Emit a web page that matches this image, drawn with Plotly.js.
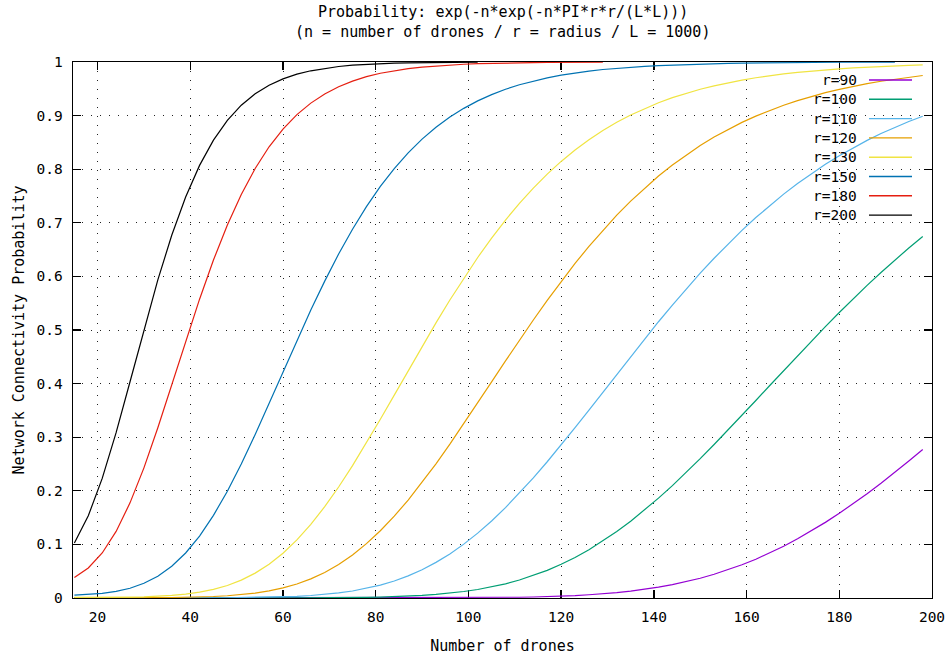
<!DOCTYPE html>
<html>
<head>
<meta charset="utf-8">
<script src="https://cdn.plot.ly/plotly-3.0.1.min.js"></script>
<style>
  html, body { margin: 0; padding: 0; background: #ffffff; }
  #chart { width: 951px; height: 660px; }
</style>
</head>
<body>
<div id="chart"></div>
<script>
// ---- Data ----
const drones = [15,18,21,24,27,30,33,36,39,42,45,48,51,54,57,60,63,66,69,72,75,78,81,84,87,90,93,96,99,102,
  105,108,111,114,117,120,123,126,129,132,135,138,141,144,147,150,153,156,159,162,165,168,171,174,177,180,
  183,186,189,192,195,198];

const seriesNames = ["r=90","r=100","r=110","r=120","r=130","r=150","r=180","r=200"];
const seriesColors = ["#9400d3","#009e73","#56b4e9","#e69f00","#f0e442","#0072b2","#e51e10","#000000"];

const r90 = [0,0,0,0,0,0,0,0,0,0,0,0,0,0,0,0,0,0,0,0,0,0,0,0,0.0001,
  0.0001,0.0002,0.0002,0.0003,0.0005,0.0007,0.0010,0.0014,0.0019,0.0026,0.0035,0.0046,0.0061,0.0079,0.0102,
  0.0129,0.0163,0.0203,0.0250,0.0305,0.0369,0.0443,0.0526,0.0620,0.0724,0.0840,0.0966,0.1104,0.1252,0.1411,
  0.1580,0.1759,0.1946,0.2142,0.2345,0.2555,0.2770];

const r100 = [0.0001,0,0,0,0,0,0,0,0,0,0,0,0,0,0.0001,0.0001,0.0002,0.0002,0.0004,0.0006,0.0008,0.0012,0.0017,
  0.0025,0.0035,0.0049,0.0067,0.0091,0.0121,0.0159,0.0207,0.0265,0.0335,0.0419,0.0516,0.0629,0.0757,0.0902,
  0.1063,0.1240,0.1433,0.1641,0.1863,0.2097,0.2343,0.2599,0.2863,0.3133,0.3408,0.3685,0.3964,0.4243,0.4520,
  0.4793,0.5062,0.5326,0.5582,0.5832,0.6073,0.6307,0.6531,0.6745];

const r110 = [0.0002,0.0001,0.0001,0.0001,0.0001,0.0001,0.0001,0.0001,0.0001,0.0002,0.0003,0.0004,0.0007,0.0010,
  0.0015,0.0022,0.0032,0.0047,0.0067,0.0094,0.0131,0.0179,0.0241,0.0318,0.0413,0.0528,0.0665,0.0823,0.1005,
  0.1210,0.1437,0.1686,0.1954,0.2241,0.2542,0.2855,0.3178,0.3507,0.3840,0.4174,0.4505,0.4833,0.5154,0.5466,
  0.5769,0.6060,0.6339,0.6605,0.6858,0.7098,0.7323,0.7535,0.7734,0.7919,0.8091,0.8252,0.8400,0.8538,0.8665,
  0.8782,0.8890,0.8989];

const r120 = [0.0005,0.0003,0.0003,0.0003,0.0003,0.0004,0.0006,0.0009,0.0013,0.0019,0.0028,0.0042,0.0062,0.0092,
  0.0132,0.0188,0.0261,0.0357,0.0477,0.0626,0.0804,0.1014,0.1255,0.1527,0.1828,0.2155,0.2504,0.2871,0.3251,
  0.3640,0.4032,0.4423,0.4810,0.5187,0.5554,0.5906,0.6242,0.6560,0.6860,0.7142,0.7404,0.7647,0.7872,0.8078,
  0.8268,0.8441,0.8599,0.8743,0.8873,0.8991,0.9098,0.9194,0.9280,0.9358,0.9428,0.9490,0.9546,0.9596,0.9641,
  0.9681,0.9717,0.9748];

const r130 = [0.0012,0.0010,0.0010,0.0012,0.0016,0.0022,0.0033,0.0049,0.0073,0.0109,0.0161,0.0234,0.0333,0.0464,
  0.0630,0.0836,0.1084,0.1374,0.1704,0.2071,0.2469,0.2893,0.3334,0.3785,0.4240,0.4691,0.5133,0.5560,0.5967,
  0.6353,0.6715,0.7052,0.7363,0.7648,0.7909,0.8145,0.8358,0.8550,0.8721,0.8875,0.9011,0.9132,0.9240,0.9335,
  0.9418,0.9492,0.9556,0.9613,0.9663,0.9706,0.9745,0.9778,0.9807,0.9832,0.9854,0.9873,0.9890,0.9905,0.9917,
  0.9928,0.9938,0.9946];

const r150 = [0.0055,0.0065,0.0086,0.0123,0.0182,0.0274,0.0407,0.0593,0.0840,0.1156,0.1542,0.1992,0.2499,0.3050,
  0.3627,0.4217,0.4803,0.5371,0.5912,0.6417,0.6881,0.7301,0.7678,0.8012,0.8305,0.8561,0.8782,0.8972,0.9135,
  0.9274,0.9392,0.9491,0.9575,0.9646,0.9705,0.9755,0.9796,0.9831,0.9860,0.9884,0.9904,0.9920,0.9934,0.9945,
  0.9955,0.9963,0.9969,0.9975,0.9979,0.9983,0.9986,0.9988,0.9990,0.9992,0.9994,0.9995,0.9996,0.9996,0.9997,
  0.9998];

const r180 = [0.0384,0.0561,0.0840,0.1242,0.1775,0.2428,0.3175,0.3976,0.4789,0.5575,0.6305,0.6959,0.7529,0.8014,
  0.8418,0.8749,0.9018,0.9233,0.9404,0.9538,0.9644,0.9726,0.9790,0.9839,0.9877,0.9906,0.9928,0.9945,0.9958,
  0.9968,0.9976,0.9982,0.9986,0.9990,0.9992,0.9994,0.9996,0.9997,0.9997];

const r200 = [0.1025,0.1534,0.2231,0.3085,0.4035,0.5008,0.5934,0.6767,0.7481,0.8071,0.8543,0.8911,0.9194,0.9408,
  0.9568,0.9686,0.9773,0.9836,0.9882,0.9916,0.9940,0.9957,0.9969,0.9978,0.9984,0.9989,0.9992,0.9994,0.9996,
  0.9997];

const xTickVals = [20,40,60,80,100,120,140,160,180,200];
const yTickVals = [0,0.1,0.2,0.3,0.4,0.5,0.6,0.7,0.8,0.9,1];
const yTickText = ["0","0.1","0.2","0.3","0.4","0.5","0.6","0.7","0.8","0.9","1"];

const titleLines = ["Probability: exp(-n*exp(-n*PI*r*r/(L*L)))",
                    "(n = number of drones / r = radius / L = 1000)"];
const xTitle = "Number of drones";
const yTitle = "Network Connectivity Probability";

// ---- Build chart ----
const allSeries = [r90, r100, r110, r120, r130, r150, r180, r200];
const FONT = "DejaVu Sans Mono, Liberation Mono, monospace";

const W = 951, H = 660;
const M = {l: 73, r: 19, t: 62, b: 62};
const plotW = W - M.l - M.r, plotH = H - M.t - M.b;
const px2x = px => (px - M.l) / plotW;
const py2y = py => (H - M.b - py) / plotH;

const traces = allSeries.map((vals, i) => ({
  type: "scatter",
  mode: "lines",
  name: seriesNames[i],
  x: drones.slice(0, vals.length),
  y: vals,
  line: {color: seriesColors[i], width: 1.2},
  showlegend: false,
  hoverinfo: "x+y+name"
}));

const annotations = [];
const shapes = [];

// two-line title, centred over the plot
titleLines.forEach((t, i) => {
  annotations.push({
    xref: "paper", yref: "paper", x: 0.5, y: py2y(12 + i * 20),
    xanchor: "center", yanchor: "middle", showarrow: false,
    text: t, font: {family: FONT, size: 15, color: "#000"}
  });
});

// gnuplot-style key: right-justified text followed by a line sample
seriesNames.forEach((nm, i) => {
  const yPix = 80 + i * 19.3;
  annotations.push({
    xref: "paper", yref: "paper", x: px2x(859), y: py2y(yPix),
    xanchor: "right", yanchor: "middle", showarrow: false,
    text: nm, font: {family: FONT, size: 14.5, color: "#000"}
  });
  shapes.push({
    type: "line", xref: "paper", yref: "paper",
    x0: px2x(869), x1: px2x(912), y0: py2y(yPix), y1: py2y(yPix),
    line: {color: seriesColors[i], width: 1.4}, layer: "above"
  });
});

const axisCommon = {
  showline: true, linecolor: "#000", linewidth: 1.3, mirror: "allticks",
  ticks: "inside", ticklen: 8, tickcolor: "#000", tickwidth: 1.3,
  showgrid: true, gridcolor: "#222", gridwidth: 1, griddash: "1px,8px",
  zeroline: false, layer: "below traces",
  tickfont: {family: FONT, size: 14.5, color: "#000"}
};

const layout = {
  width: W, height: H,
  margin: M,
  paper_bgcolor: "#ffffff", plot_bgcolor: "#ffffff",
  showlegend: false,
  xaxis: Object.assign({}, axisCommon, {
    range: [14.7, 200], tickmode: "array", tickvals: xTickVals,
    ticklabelstandoff: 5,
    title: {text: xTitle, font: {family: FONT, size: 15, color: "#000"}, standoff: 16}
  }),
  yaxis: Object.assign({}, axisCommon, {
    range: [0, 1], tickmode: "array", tickvals: yTickVals, ticktext: yTickText,
    ticklabelstandoff: 6,
    title: {text: yTitle, font: {family: FONT, size: 15, color: "#000"}, standoff: 8}
  }),
  annotations: annotations,
  shapes: shapes
};

Plotly.newPlot("chart", traces, layout, {displayModeBar: false, staticPlot: true});
</script>
</body>
</html>
